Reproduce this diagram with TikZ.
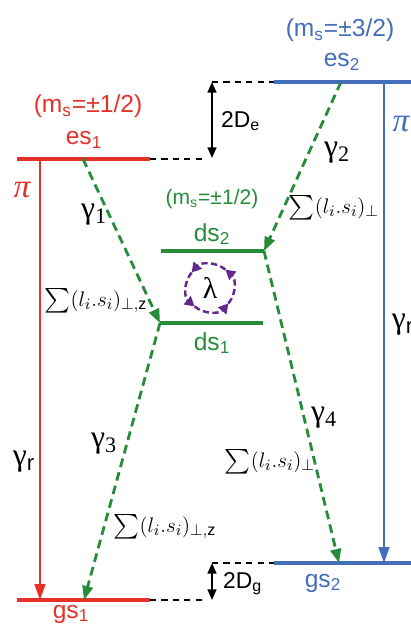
\documentclass[tikz,border=0pt]{standalone}
\usepackage{fontspec}
\usepackage{graphicx}
\setmainfont{Liberation Sans}
\newfontfamily\serifgk{Liberation Serif}
\usetikzlibrary{arrows.meta}
\definecolor{myred}{RGB}{228,50,40}
\definecolor{myblue}{RGB}{68,110,185}
\definecolor{mygreen}{RGB}{38,140,58}
\definecolor{mypurple}{RGB}{100,40,140}
\newcommand{\sumlbl}[1]{$\vcenter{\hbox{\scalebox{1.4}{$\sum$}}}(l_i.s_i)_{#1}$}
\tikzset{
  lvl/.style={line width=2.1pt},
  vtrans/.style={line width=1.5pt,-{Triangle[length=9pt,width=6pt]}},
  gtrans/.style={draw=mygreen,line width=1.6pt,dash pattern=on 5pt off 3pt,-{Triangle[length=8pt,width=6pt]}},
  guide/.style={draw=black,line width=0.7pt,dash pattern=on 3.5pt off 3pt},
  split/.style={draw=black,line width=1pt,{Triangle[length=6pt,width=5pt]}-{Triangle[length=6pt,width=5pt]}},
  mslbl/.style={font=\fontsize{14}{16}\selectfont},
  stlbl/.style={font=\fontsize{14}{16}\selectfont},
  gam/.style={font=\fontsize{18}{20}\selectfont\serifgk},
  sig/.style={font=\fontsize{13}{15}\selectfont},
  plbl/.style={font=\fontsize{19}{21}\selectfont\serifgk\itshape},
}
\begin{document}
\begin{tikzpicture}[x=0.02cm,y=-0.02cm]
\useasboundingbox (0,0) rectangle (411,625);
% coordinates
\coordinate (es1L) at (17,159); \coordinate (es1R) at (150,159);
\coordinate (es1a) at (83,159); \coordinate (es1v) at (40,159);
\coordinate (gs1L) at (17,600); \coordinate (gs1R) at (150,600);
\coordinate (gs1a) at (84,600); \coordinate (gs1v) at (40,600);
\coordinate (es2L) at (274,82); \coordinate (es2R) at (411,82);
\coordinate (es2a) at (341,82); \coordinate (es2v) at (384,82);
\coordinate (gs2L) at (274,563); \coordinate (gs2R) at (411,563);
\coordinate (gs2a) at (339,563); \coordinate (gs2v) at (384,563);
\coordinate (ds2L) at (161,251); \coordinate (ds2R) at (264,251);
\coordinate (ds1L) at (160,323); \coordinate (ds1R) at (263,323);
\coordinate (gE1) at (204,159); \coordinate (gE2) at (212,82);
\coordinate (gG1) at (204,600); \coordinate (gG2) at (212,563);
\coordinate (aE1) at (212,158); \coordinate (aG1) at (212,600);
% guide dashes
\draw[guide] (es1R) -- (gE1);
\draw[guide] (gE2) -- (es2L);
\draw[guide] (gs1R) -- (gG1);
\draw[guide] (gG2) -- (gs2L);
% splittings
\draw[split] (gE2) -- (aE1);
\draw[split] (gG2) -- (aG1);
\node[anchor=west,font=\fontsize{13}{15}\selectfont] (De) at (215,121) {2D\textsubscript{e}};
\node[anchor=west,font=\fontsize{13}{15}\selectfont] (Dg) at (217,584) {2D\textsubscript{g}};
% levels
\draw[lvl,myred] (es1L) -- (es1R);
\draw[lvl,myred] (gs1L) -- (gs1R);
\draw[lvl,myblue] (es2L) -- (es2R);
\draw[lvl,myblue] (gs2L) -- (gs2R);
\draw[lvl,mygreen] (ds2L) -- (ds2R);
\draw[lvl,mygreen] (ds1L) -- (ds1R);
% radiative
\draw[vtrans,myred] (es1v) -- (gs1v);
\draw[vtrans,myblue] (es2v) -- (gs2v);
% level labels
\node[mslbl,text=myred] (ms1) at (88,106) {(m\textsubscript{s}=±1/2)};
\node[stlbl,text=myred] (les1) at (84,140) {es\textsubscript{1}};
\node[mslbl,text=myblue] (ms2) at (340,30) {(m\textsubscript{s}=±3/2)};
\node[stlbl,text=myblue] (les2) at (342,62) {es\textsubscript{2}};
\node[font=\fontsize{12}{14}\selectfont,text=mygreen] (ms3) at (212,199) {(m\textsubscript{s}=±1/2)};
\node[stlbl,text=mygreen] (lds2) at (212,234) {ds\textsubscript{2}};
\node[stlbl,text=mygreen] (lds1) at (212,343) {ds\textsubscript{1}};
\node[stlbl,text=myred] (lgs1) at (71,614) {gs\textsubscript{1}};
\node[stlbl,text=myblue] (lgs2) at (323,583) {gs\textsubscript{2}};
% pi and gamma_r
\node[plbl,text=myred] (pi1) at (22,190) {π};
\node[plbl,text=myblue] (pi2) at (401,124) {π};
\node[gam] (gr1) at (24,462) {γ\textsubscript{\rmfamily r}};
\node[gam] (gr2) at (403,325) {γ\textsubscript{\rmfamily r}};
% green transitions
\draw[gtrans] (es1a) -- (ds1L);
\draw[gtrans] (es2a) -- (ds2R);
\draw[gtrans] (ds1L) -- (gs1a);
\draw[gtrans] (ds2R) -- (gs2a);
\node[gam] (g1) at (94,215) {γ\textsubscript{1}};
\node[gam] (g2) at (337,153) {γ\textsubscript{2}};
\node[gam] (g3) at (104,444) {γ\textsubscript{3}};
\node[gam] (g4) at (324,418) {γ\textsubscript{4}};
\node[sig] (s1) at (96,301) {\sumlbl{\perp,\mathrm{z}}};
\node[sig] (s2) at (334,208) {\sumlbl{\perp}};
\node[sig] (s3) at (165,527) {\sumlbl{\perp,\mathrm{z}}};
\node[sig] (s4) at (270,462) {\sumlbl{\perp}};
% lambda
\node[font=\fontsize{17}{19}\selectfont\serifgk] (lam) at (210,288) {λ};
\foreach \a in {120,30,-60,-150}{
  \draw[mypurple,line width=1.4pt,dash pattern=on 3.5pt off 2pt,-{Triangle[length=5.5pt,width=6pt]}]
    (lam.center) ++(\a+10:24) arc[start angle=\a+10,end angle=\a-80,radius=24];
}
\end{tikzpicture}
\end{document}
